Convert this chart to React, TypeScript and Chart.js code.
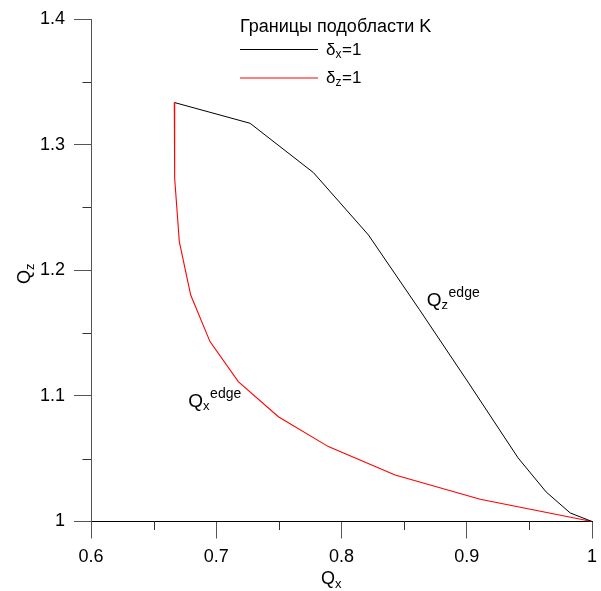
import React, { useEffect, useRef } from 'react';
import { Chart, registerables } from 'chart.js';

Chart.register(...registerables);

// Series δx = 1 (black)
const blackX = [0.667, 0.727, 0.7776, 0.8215, 0.862, 0.901, 0.941, 0.9634, 0.9826, 1.0];
const blackY = [1.3334, 1.317, 1.2777, 1.2281, 1.169, 1.111, 1.0506, 1.0235, 1.0068, 1.0];

// Series δz = 1 (red)
const redX = [0.6665, 0.6668, 0.6705, 0.6796, 0.695, 0.7176, 0.7496, 0.7895, 0.8428, 0.9107, 1.0];
const redY = [1.3337, 1.2733, 1.2228, 1.1803, 1.1432, 1.1113, 1.0834, 1.0596, 1.037, 1.0177, 1.0];

// Axis ranges and ticks
const xRange = [0.6, 1.0];
const yRange = [1.0, 1.4];
const majorStep = 0.1;
const xMinorTicks = [0.65, 0.75, 0.85, 0.95];
const yMinorTicks = [1.05, 1.15, 1.25, 1.35];

// Annotation anchors (data coordinates) and texts
const annotations = [
  { x: 0.8681, y: 1.1718, main: 'Q', sub: 'z', sup: 'edge' },
  { x: 0.6777, y: 1.0914, main: 'Q', sub: 'x', sup: 'edge' },
];

const legendTitle = 'Границы подобласти K';
const legendItems = [
  { color: '#000000', main: 'δ', sub: 'x', rest: '=1' },
  { color: '#ff0000', main: 'δ', sub: 'z', rest: '=1' },
];

const FONT = '"Liberation Sans", Arial, sans-serif';

function drawRich(
  ctx: CanvasRenderingContext2D,
  x: number,
  y: number,
  main: string,
  mainSize: number,
  sub?: string,
  subSize?: number,
  sup?: string,
  supSize?: number,
  rest?: string
) {
  ctx.font = `${mainSize}px ${FONT}`;
  ctx.fillText(main, x, y);
  let cx = x + ctx.measureText(main).width;
  let subEnd = cx;
  if (sub) {
    ctx.font = `${subSize}px ${FONT}`;
    ctx.fillText(sub, cx, y + mainSize * 0.2);
    subEnd = cx + ctx.measureText(sub).width;
  }
  if (sup) {
    ctx.font = `${supSize}px ${FONT}`;
    ctx.fillText(sup, subEnd + 0.5, y - mainSize * 0.45);
  }
  if (rest) {
    ctx.font = `${mainSize}px ${FONT}`;
    ctx.fillText(rest, subEnd + 0.5, y);
  }
}

const decorPlugin = {
  id: 'decor',
  afterDraw(chart: any) {
    const ctx: CanvasRenderingContext2D = chart.ctx;
    const xs = chart.scales.x;
    const ys = chart.scales.y;
    const area = chart.chartArea;
    ctx.save();
    // minor ticks
    ctx.strokeStyle = '#333';
    ctx.lineWidth = 1;
    ctx.beginPath();
    for (const v of xMinorTicks) {
      const px = Math.round(xs.getPixelForValue(v)) + 0.5;
      ctx.moveTo(px, area.bottom);
      ctx.lineTo(px, area.bottom + 8.5);
    }
    for (const v of yMinorTicks) {
      const py = Math.round(ys.getPixelForValue(v)) + 0.5;
      ctx.moveTo(area.left - 8.5, py);
      ctx.lineTo(area.left, py);
    }
    ctx.stroke();

    ctx.fillStyle = '#000';
    ctx.textBaseline = 'alphabetic';
    ctx.textAlign = 'left';

    // annotations
    for (const a of annotations) {
      const px = xs.getPixelForValue(a.x);
      const py = ys.getPixelForValue(a.y);
      drawRich(ctx, px, py, a.main, 19, a.sub, 13, a.sup, 14);
    }

    // axis titles
    drawRich(ctx, 321, 584, 'Q', 18, 'x', 13);
    ctx.save();
    ctx.translate(30, 284);
    ctx.rotate(-Math.PI / 2);
    drawRich(ctx, 0, 0, 'Q', 18, 'z', 13);
    ctx.restore();

    // legend
    ctx.font = `18px ${FONT}`;
    ctx.fillText(legendTitle, 240, 32);
    legendItems.forEach((it, i) => {
      const ly = 49.5 + i * 28.5;
      ctx.strokeStyle = it.color;
      ctx.lineWidth = 1;
      ctx.beginPath();
      ctx.moveTo(240, ly);
      ctx.lineTo(318, ly);
      ctx.stroke();
      ctx.fillStyle = '#000';
      drawRich(ctx, 326, ly + 5, it.main, 17, it.sub, 12, undefined, undefined, it.rest);
    });
    ctx.restore();
  },
};

const fmt = (v: any) => String(Math.round(Number(v) * 10) / 10);

export default function App() {
  const ref = useRef<HTMLCanvasElement | null>(null);
  useEffect(() => {
    document.body.style.margin = '0';
    const canvas = ref.current;
    if (!canvas) return;
    const chart = new Chart(canvas, {
      type: 'scatter',
      data: {
        datasets: [
          {
            label: 'δx=1',
            data: blackX.map((x, i) => ({ x, y: blackY[i] })),
            showLine: true,
            borderColor: '#000000',
            borderWidth: 1,
            pointRadius: 0,
            fill: false,
            clip: false as any,
          },
          {
            label: 'δz=1',
            data: redX.map((x, i) => ({ x, y: redY[i] })),
            showLine: true,
            borderColor: '#ff0000',
            borderWidth: 1.1,
            pointRadius: 0,
            fill: false,
            clip: false as any,
          },
        ],
      },
      options: {
        animation: false,
        responsive: false,
        devicePixelRatio: 1,
        layout: { padding: { left: 0, top: 19, right: 9, bottom: 0 } },
        plugins: { legend: { display: false }, tooltip: { enabled: false } },
        scales: {
          x: {
            type: 'linear',
            min: xRange[0],
            max: xRange[1],
            ticks: {
              stepSize: majorStep,
              font: { family: FONT, size: 18 },
              color: '#000',
              padding: 8,
              maxRotation: 0,
              autoSkip: false,
              callback: fmt,
            },
            grid: { drawOnChartArea: false, drawTicks: true, tickLength: 17, color: '#555', lineWidth: 1 },
            border: { display: true, color: '#000', width: 1 },
            afterFit: (s: any) => {
              s.height = 69.5;
              s.paddingLeft = 0;
              s.paddingRight = 0;
            },
          },
          y: {
            type: 'linear',
            min: yRange[0],
            max: yRange[1],
            ticks: {
              stepSize: majorStep,
              font: { family: FONT, size: 18 },
              color: '#000',
              padding: 9,
              autoSkip: false,
              callback: fmt,
            },
            grid: { drawOnChartArea: false, drawTicks: true, tickLength: 17, color: '#555', lineWidth: 1 },
            border: { display: true, color: '#555', width: 1 },
            afterFit: (s: any) => {
              s.width = 91;
              s.paddingTop = 0;
              s.paddingBottom = 0;
            },
          },
        },
      },
      plugins: [decorPlugin],
    });
    return () => chart.destroy();
  }, []);
  return (
    <div style={{ width: 601, height: 591 }}>
      <canvas ref={ref} width={601} height={591} style={{ display: 'block', width: 601, height: 591 }} />
    </div>
  );
}
